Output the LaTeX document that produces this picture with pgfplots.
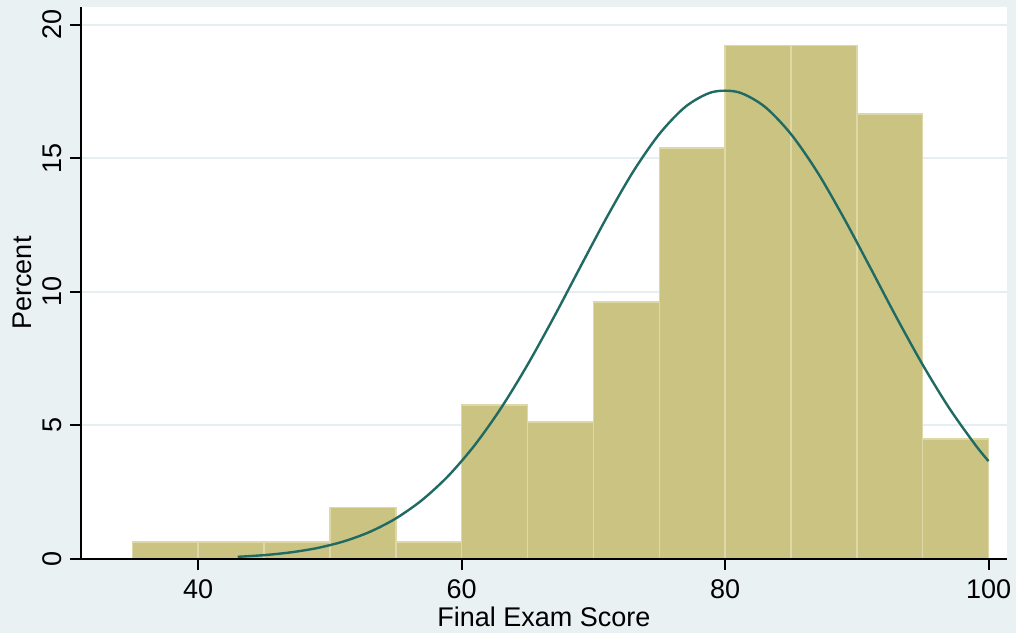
\documentclass[border=0pt]{standalone}
\usepackage{pgfplots}
\pgfplotsset{compat=1.18}
\usepackage{fontspec}
\setmainfont{Liberation Sans}
\definecolor{bgc}{RGB}{233,241,243}
\definecolor{barc}{RGB}{202,195,130}
\definecolor{barl}{RGB}{222,216,168}
\definecolor{curvec}{RGB}{32,106,100}
\definecolor{gridc}{RGB}{230,238,241}
\begin{document}
\fontsize{13.5bp}{16bp}\selectfont
\begin{tikzpicture}
\path[use as bounding box, fill=bgc] (-40.5bp,-37bp) rectangle (467.5bp,279.5bp);
\begin{axis}[
  at={(0,0)}, anchor=south west,
  scale only axis, width=463bp, height=276bp,
  xmin=31.1, xmax=101.4, ymin=0, ymax=20.67,
  axis x line*=bottom, axis y line*=left,
  axis line style={line width=1bp, -},
  axis background/.style={fill=white},
  xtick={40,60,80,100}, ytick={0,5,10,15,20},
  ymajorgrids, grid style={gridc, line width=1bp},
  tick style={black, line width=1bp}, tick align=outside, major tick length=5.5bp,
  /pgf/number format/assume math mode=true,
  ticklabel style={font=\fontsize{13.5bp}{16bp}\selectfont},
  yticklabel style={rotate=90, anchor=south, inner sep=0pt},
  xticklabel style={anchor=north, inner sep=0pt},
  xticklabel shift=4.5bp, yticklabel shift=4bp,
  xlabel={Final Exam Score}, ylabel={Percent},
  label style={font=\fontsize{13.5bp}{16bp}\selectfont, inner sep=0pt},
  xlabel style={at={(axis description cs:0.5,-0.105)}, anchor=center},
  ylabel style={at={(axis description cs:-0.0637,0.5)}, anchor=center},
]
\addplot[ybar interval, fill=barc, draw=barl, line width=0.75bp] coordinates {
  (35,0.641) (40,0.641) (45,0.641) (50,1.923) (55,0.641)
  (60,5.769) (65,5.128) (70,9.615) (75,15.385) (80,19.231)
  (85,19.231) (90,16.667) (95,4.487) (100,0)
};
\addplot[curvec, line width=1.2bp, smooth, mark=none] coordinates {
  (43,0.082) (45,0.145) (47,0.247) (49,0.407) (51,0.652) (53,1.010)
  (55,1.518) (57,2.211) (59,3.120) (61,4.270) (63,5.660) (65,7.273)
  (67,9.056) (69,10.93) (71,12.78) (73,14.49) (75,15.91) (77,16.94)
  (79,17.48) (81,17.48) (83,16.94) (85,15.91) (87,14.49)
  (89,12.78) (91,10.93) (93,9.056) (95,7.273) (97,5.660) (99,4.270)
  (100,3.665)
};
\draw[black, line width=1bp] (rel axis cs:0,0) -- (rel axis cs:1,0);
\end{axis}
\end{tikzpicture}
\end{document}
